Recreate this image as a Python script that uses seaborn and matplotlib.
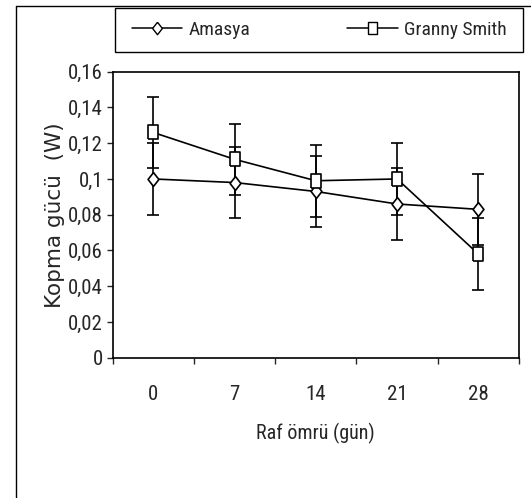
import numpy as np
import pandas as pd
import matplotlib
matplotlib.use("Agg")
import matplotlib.pyplot as plt
import seaborn as sns
from matplotlib.patches import Rectangle
from matplotlib.lines import Line2D

# veri
days = ["0", "7", "14", "21", "28"]
amasya = [0.100, 0.098, 0.093, 0.086, 0.083]
amasya_err = [0.02, 0.02, 0.02, 0.02, 0.02]
granny = [0.126, 0.111, 0.099, 0.100, 0.058]
granny_err = [0.02, 0.02, 0.02, 0.02, 0.02]
yticks = [0, 0.02, 0.04, 0.06, 0.08, 0.10, 0.12, 0.14, 0.16]
ytick_labels = ["0", "0,02", "0,04", "0,06", "0,08", "0,1", "0,12", "0,14", "0,16"]

pos = np.arange(len(days))
df = pd.DataFrame({
    "pos": np.concatenate([pos, pos]),
    "val": amasya + granny,
    "err": amasya_err + granny_err,
    "cesit": ["Amasya"] * len(days) + ["Granny Smith"] * len(days),
})

sns.set_style("white")
narrow = ["Roboto Condensed", "Liberation Sans", "DejaVu Sans"]
plt.rcParams["font.family"] = narrow

fig = plt.figure(figsize=(5.31, 4.98), dpi=100)
ax = fig.add_axes([0.2122, 0.2817, 0.9774 - 0.2122, 0.856 - 0.2817])

# dikey olarak gerilmiş baklava ve kare
diamond = [(0, 1), (0.78, 0), (0, -1), (-0.78, 0), (0, 1)]
square = [(-0.72, -1), (0.72, -1), (0.72, 1), (-0.72, 1), (-0.72, -1)]
marker_map = {"Amasya": diamond, "Granny Smith": square}
for name, grp in df.groupby("cesit"):
    ax.errorbar(grp["pos"], grp["val"], yerr=grp["err"], fmt="none",
                ecolor="black", elinewidth=1.2, capsize=4, capthick=1.2, zorder=2)
    sns.lineplot(data=grp, x="pos", y="val", ax=ax, color="black", lw=1.2,
                 marker=marker_map[name], markersize=10,
                 markerfacecolor="white", markeredgecolor="black", markeredgewidth=1.2,
                 label=name, legend=False, zorder=3)

ax.set_xlim(-0.5, len(days) - 0.5)
ax.set_ylim(0, 0.16)
ax.set_xticks(pos)
ax.set_xticklabels(days, fontsize=15)
ax.set_xticks(np.arange(len(days) + 1) - 0.5, minor=True)
ax.tick_params(axis="x", which="major", length=0, pad=20)
ax.tick_params(axis="x", which="minor", length=4, width=1, direction="out", bottom=True)
ax.set_yticks(yticks)
ax.set_yticklabels(ytick_labels, fontsize=15)
ax.tick_params(axis="y", length=4, width=1, direction="out", left=True, pad=3)

for s in ax.spines.values():
    s.set_color("black")
    s.set_linewidth(1.2)

ax.set_xlabel("Raf ömrü (gün)", fontsize=14.5, labelpad=13)
ax.set_ylabel("Kopma gücü  (W)", fontsize=15.5, labelpad=2,
              family=["DejaVu Sans"])

# legend kutusu
fig.add_artist(Rectangle((115 / 531, 1 - 52 / 498), 408 / 531, 44 / 498,
                         transform=fig.transFigure, fill=False, edgecolor="black", lw=1))
handles = [Line2D([], [], color="black", lw=1.1, marker=marker_map[n], markersize=9,
                  markerfacecolor="white", markeredgecolor="black") for n in ["Amasya", "Granny Smith"]]
fig.legend(handles, ["Amasya", "Granny Smith"], loc="center", ncol=2,
           bbox_to_anchor=(319 / 531, 1 - 30 / 498), frameon=False, fontsize=14,
           handlelength=2.6, handletextpad=0.3, columnspacing=5.0)

# dış çerçeve
fig.add_artist(Line2D([16 / 531, 16 / 531], [0, 1 - 6 / 498], transform=fig.transFigure, color="black", lw=1))
fig.add_artist(Line2D([16 / 531, 1], [1 - 6 / 498, 1 - 6 / 498], transform=fig.transFigure, color="black", lw=1))

fig.savefig("out.png", dpi=100)
